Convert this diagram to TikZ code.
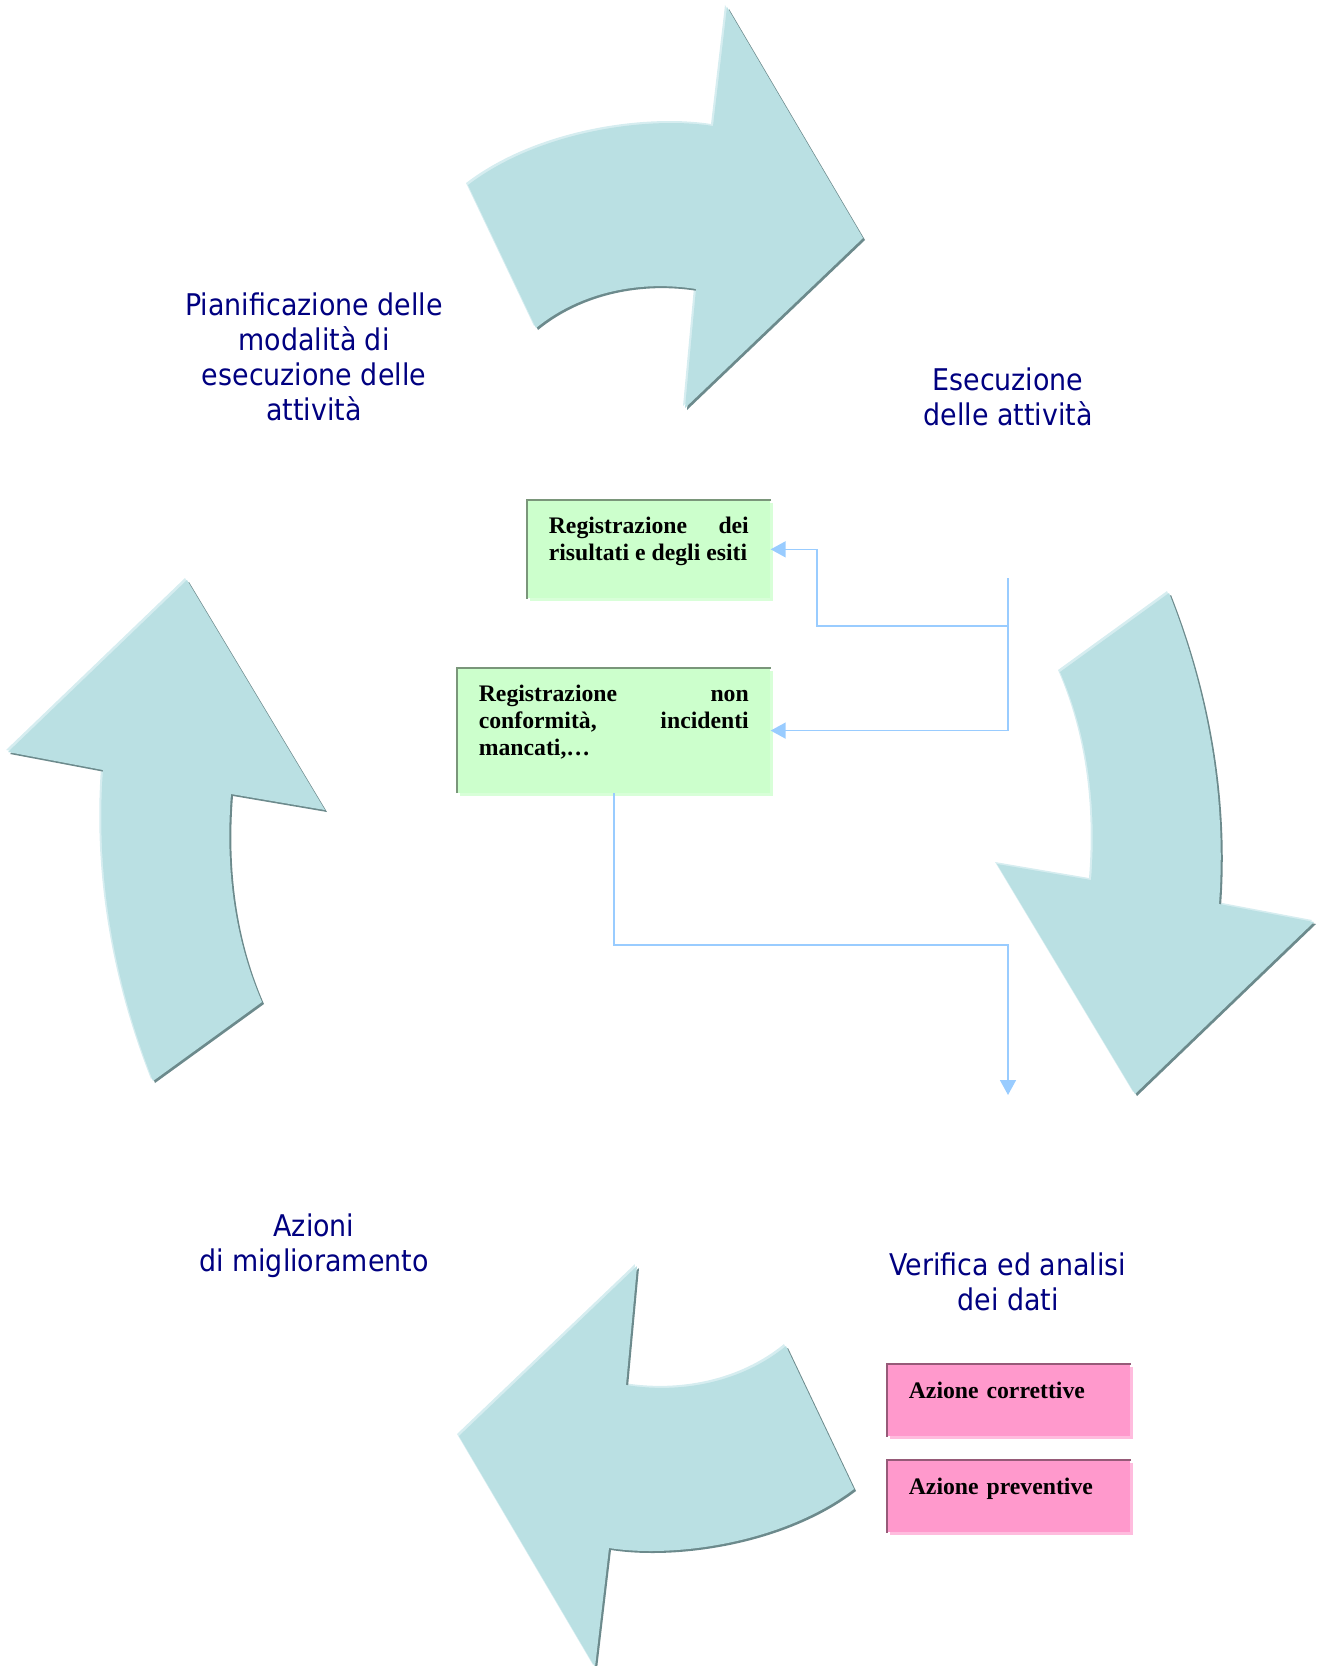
\documentclass[tikz,border=0pt]{standalone}
\usepackage{fontspec}
\setmainfont{Liberation Serif}
\newfontfamily\labelfont{DejaVu Sans Condensed}
\usetikzlibrary{arrows.meta,shadows}
\hyphenpenalty=10000
\tolerance=10000

\definecolor{cyclefill}{RGB}{186,224,227}
\definecolor{cycledark}{RGB}{108,138,140}
\definecolor{cyclelite}{RGB}{214,237,240}
\definecolor{labelblue}{RGB}{0,0,128}
\definecolor{greenfill}{RGB}{204,255,204}
\definecolor{greenedge}{RGB}{122,150,122}
\definecolor{greenshade}{RGB}{216,255,216}
\definecolor{pinkfill}{RGB}{255,153,204}
\definecolor{pinkedge}{RGB}{150,90,120}
\definecolor{pinkshade}{RGB}{255,188,222}
\definecolor{linkblue}{RGB}{153,204,255}

% block arrows of the cycle (page pixels)
\newcommand{\cycletop}{(468,185) .. controls (540,130) and (650,116) .. (713,126)
  -- (727,7) -- (863,238) -- (685,408) -- (696,289)
  .. controls (640,280) and (580,292) .. (536,328) -- cycle}
\newcommand{\cycleleft}{(8,752) -- (187,580) -- (325,810) -- (231,794)
  .. controls (225,870) and (235,940) .. (262,1002) -- (153,1081)
  .. controls (115,985) and (95,878) .. (103,770) -- cycle}

\begin{document}
\begin{tikzpicture}[x=0.02cm, y=-0.02cm,
  arrowhi/.style={fill=cyclelite, xshift=-0.04cm, yshift=0.04cm},
  arrowlo/.style={fill=cycledark, xshift=0.04cm, yshift=-0.04cm},
  arrowbody/.style={fill=cyclefill},
  cyclelabel/.style={align=center, text=labelblue,
    font=\labelfont\fontsize{17}{19.8}\selectfont},
  boxfont/.style={font=\fontsize{13.5}{15.4}\selectfont\bfseries},
  regbox/.style={boxfont, fill=greenfill, text width=#1, align=justify,
    inner xsep=0.43cm, inner ysep=0pt, text height=0.67cm, anchor=north west,
    drop shadow={fill=greenshade, opacity=1, shadow xshift=0.06cm, shadow yshift=-0.06cm}},
  actbox/.style={boxfont, fill=pinkfill, text width=4cm, align=left,
    inner xsep=0.43cm, inner ysep=0pt, text height=0.68cm, text depth=0.76cm, anchor=north west,
    drop shadow={fill=pinkshade, opacity=1, shadow xshift=0.06cm, shadow yshift=-0.06cm}},
  link/.style={draw=linkblue, line width=0.9pt, -{Triangle[length=0.3cm, width=0.32cm]}}]

  \useasboundingbox (0,0) rectangle (1319,1666);

  % the four curved arrows
  \foreach \rot in {0,180}{
    \fill[arrowhi, rotate around={\rot:(661,837)}] \cycletop;
    \fill[arrowlo, rotate around={\rot:(661,837)}] \cycletop;
    \fill[arrowbody, rotate around={\rot:(661,837)}] \cycletop;
    \fill[arrowhi, rotate around={\rot:(661,837)}] \cycleleft;
    \fill[arrowlo, rotate around={\rot:(661,837)}] \cycleleft;
    \fill[arrowbody, rotate around={\rot:(661,837)}] \cycleleft;
  }

  % phase labels
  \node[cyclelabel] (plan)  at (314,357)  {Pianificazione delle\\modalità di\\esecuzione delle\\attività};
  \node[cyclelabel] (exec)  at (1008,397) {Esecuzione\\delle attività};
  \node[cyclelabel] (check) at (1008,1282) {Verifica ed analisi\\dei dati};
  \node[cyclelabel] (act)   at (314,1246) {Azioni\\di miglioramento};

  % records
  \node[regbox=4cm, text depth=1.29cm] (res) at (527,500) {Registrazione dei risultati e degli esiti};
  \node[regbox=5.4cm, text depth=1.82cm] (nc) at (457,668) {Registrazione non conformità, incidenti mancati,…};
  \foreach \b in {res,nc}
    \draw[greenedge, line width=1.2pt] (\b.south west) |- (\b.north east);

  % actions
  \node[actbox] (corr) at (887,1364) {Azione correttive};
  \node[actbox] (prev) at (887,1460) {Azione preventive};
  \foreach \b in {corr,prev}
    \draw[pinkedge, line width=1.2pt] (\b.south west) |- (\b.north east);

  % connectors
  \coordinate (src) at (1008,578);
  \coordinate (dst) at (1008,1095);
  \draw[link] (src) |- (817,626) |- (res.east);
  \draw[link] (src) |- (nc.east);
  \draw[link] (nc.south) -- ++(0,152) -| (dst);
\end{tikzpicture}
\end{document}
